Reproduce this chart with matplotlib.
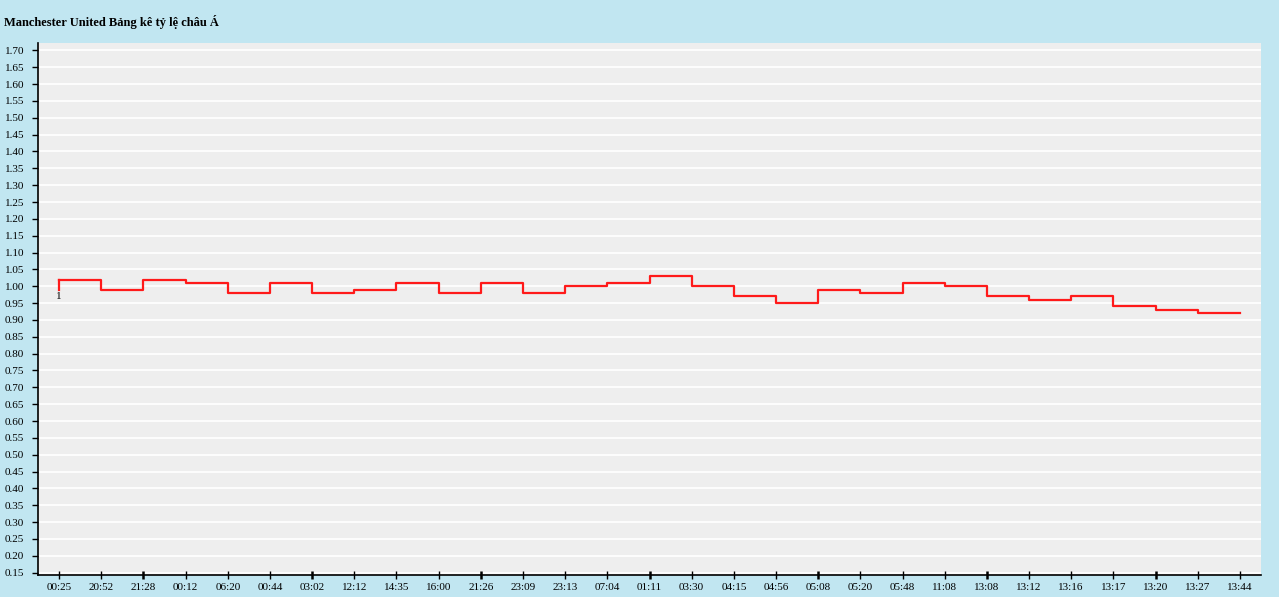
import numpy as np
import matplotlib.pyplot as plt

# chart data
title = "Manchester United Bảng kê tỷ lệ châu Á"
times = ["00:25", "20:52", "21:28", "00:12", "06:20", "00:44", "03:02", "12:12",
         "14:35", "16:00", "21:26", "23:09", "23:13", "07:04", "01:11", "03:30",
         "04:15", "04:56", "05:08", "05:20", "05:48", "11:08", "13:08", "13:12",
         "13:16", "13:17", "13:20", "13:27", "13:44"]
odds = [1.02, 0.99, 1.02, 1.01, 0.98, 1.01, 0.98, 0.99, 1.01, 0.98, 1.01, 0.98,
        1.00, 1.01, 1.03, 1.00, 0.97, 0.95, 0.99, 0.98, 1.01, 1.00, 0.97, 0.96,
        0.97, 0.94, 0.93, 0.92, 0.92]
open_value = 0.99
y_ticks = np.round(np.arange(0.15, 1.7001, 0.05), 2)

plt.rcParams['font.family'] = ['Liberation Serif', 'DejaVu Serif']

bg = "#C1E6F1"
fig = plt.figure(figsize=(12.79, 5.97), dpi=100, facecolor=bg)
ax = fig.add_axes([38 / 1279, 22 / 597, 1223 / 1279, 532 / 597])
ax.set_facecolor("#EEEEEE")

x = np.arange(len(times))
for v in y_ticks:
    ax.axhline(v, color="white", lw=1.2, zorder=1)

# opening line then the step series
ax.plot([x[0], x[0]], [open_value, odds[0]], color="#FF1A1A", lw=1.6, zorder=3)
ax.step(x, odds, where="post", color="#FF1A1A", lw=1.6, zorder=3)
ax.text(x[0], open_value - 0.008, "1", fontsize=8, va="top", ha="center")

ax.set_xlim(-0.5, 28.5)
ax.set_ylim(0.143, 1.722)
ax.set_xticks(x)
ax.set_xticklabels(times, fontsize=8)
ax.set_yticks(y_ticks)
ax.set_yticklabels([f"{v:.2f}" for v in y_ticks], fontsize=8)

for s in ["top", "right"]:
    ax.spines[s].set_visible(False)
ax.spines["left"].set_linewidth(1.2)
ax.spines["bottom"].set_linewidth(1.2)
ax.tick_params(axis="y", direction="out", length=4, width=1, pad=6)
ax.tick_params(axis="x", direction="inout", length=6, width=1, pad=3)
for i, t in enumerate(ax.xaxis.get_major_ticks()):
    if i % 4 == 2:
        t.tick1line.set_markeredgewidth(1.8)

fig.text(4 / 1279, 1 - 22 / 597, title, fontsize=9, fontweight="bold", va="center", ha="left")

fig.savefig("out.png", dpi=100, facecolor=bg)
